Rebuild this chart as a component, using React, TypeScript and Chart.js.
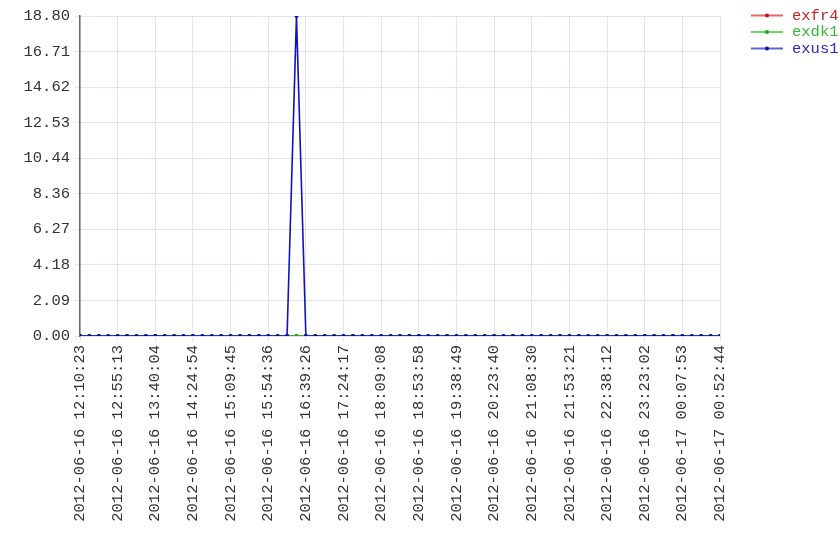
import React, { useEffect, useRef } from "react";
import { Chart, registerables } from "chart.js";

Chart.register(...registerables);

const seriesNames = ["exfr4", "exdk1", "exus1"];
const plotLineColors = ["#d02020", "#22c022", "#1212c4"];
const legendLineColors = ["rgba(215,40,40,0.7)", "rgba(40,200,40,0.7)", "rgba(30,30,200,0.7)"];
const pointColors = ["#c81010", "#10b010", "#0c0cb0"];
const textColors = ["#cc2222", "#33bb33", "#2828c0"];

const xTickLabels = [
  "2012-06-16 12:10:23",
  "2012-06-16 12:55:13",
  "2012-06-16 13:40:04",
  "2012-06-16 14:24:54",
  "2012-06-16 15:09:45",
  "2012-06-16 15:54:36",
  "2012-06-16 16:39:26",
  "2012-06-16 17:24:17",
  "2012-06-16 18:09:08",
  "2012-06-16 18:53:58",
  "2012-06-16 19:38:49",
  "2012-06-16 20:23:40",
  "2012-06-16 21:08:30",
  "2012-06-16 21:53:21",
  "2012-06-16 22:38:12",
  "2012-06-16 23:23:02",
  "2012-06-17 00:07:53",
  "2012-06-17 00:52:44",
];

// 69 samples (4 per labelled interval)
const exfr4 = [
  0, 0, 0, 0, 0, 0, 0, 0, 0, 0,
  0, 0, 0, 0, 0, 0, 0, 0, 0, 0,
  0, 0, 0, 0, 0, 0, 0, 0, 0, 0,
  0, 0, 0, 0, 0, 0, 0, 0, 0, 0,
  0, 0, 0, 0, 0, 0, 0, 0, 0, 0,
  0, 0, 0, 0, 0, 0, 0, 0, 0, 0,
  0, 0, 0, 0, 0, 0, 0, 0, 0,
];
const exdk1 = [
  0, 0, 0, 0, 0, 0, 0, 0, 0, 0,
  0, 0, 0, 0, 0, 0, 0, 0, 0, 0,
  0, 0, 0, 0, 0, 0, 0, 0, 0, 0,
  0, 0, 0, 0, 0, 0, 0, 0, 0, 0,
  0, 0, 0, 0, 0, 0, 0, 0, 0, 0,
  0, 0, 0, 0, 0, 0, 0, 0, 0, 0,
  0, 0, 0, 0, 0, 0, 0, 0, 0,
];
const exus1 = [
  0, 0, 0, 0, 0, 0, 0, 0, 0, 0,
  0, 0, 0, 0, 0, 0, 0, 0, 0, 0,
  0, 0, 0, 18.8, 0, 0, 0, 0, 0, 0,
  0, 0, 0, 0, 0, 0, 0, 0, 0, 0,
  0, 0, 0, 0, 0, 0, 0, 0, 0, 0,
  0, 0, 0, 0, 0, 0, 0, 0, 0, 0,
  0, 0, 0, 0, 0, 0, 0, 0, 0,
];

const yMax = 18.8;
const yDivisions = 9;
const samplesPerLabel = 4;

const FONT = "'Liberation Mono', monospace";
const FONT_SIZE = 15.5;

const sideLegend = {
  id: "sideLegend",
  afterDraw(chart: any) {
    const ctx = chart.ctx;
    const area = chart.chartArea;
    chart.data.datasets.forEach((ds: any, i: number) => {
      const y = area.top + i * 16.5 - 0.5;
      const x0 = area.right + 31;
      ctx.save();
      ctx.strokeStyle = legendLineColors[i];
      ctx.lineWidth = 2;
      ctx.beginPath();
      ctx.moveTo(x0, y);
      ctx.lineTo(x0 + 32, y);
      ctx.stroke();
      ctx.fillStyle = pointColors[i];
      ctx.beginPath();
      ctx.arc(x0 + 16, y, 2, 0, Math.PI * 2);
      ctx.fill();
      ctx.font = `${FONT_SIZE}px ${FONT}`;
      ctx.fillStyle = textColors[i];
      ctx.textBaseline = "middle";
      ctx.textAlign = "left";
      ctx.fillText(ds.label, x0 + 41, y);
      ctx.restore();
    });
  },
};

export default function App() {
  const canvasRef = useRef<HTMLCanvasElement | null>(null);

  useEffect(() => {
    if (!canvasRef.current) return;
    const series = [exfr4, exdk1, exus1];
    const chart = new Chart(canvasRef.current, {
      type: "line",
      data: {
        datasets: series.map((vals, i) => ({
          label: seriesNames[i],
          data: vals.map((v, j) => ({ x: j, y: v })),
          order: series.length - 1 - i,
          borderColor: plotLineColors[i],
          backgroundColor: pointColors[i],
          pointBackgroundColor: pointColors[i],
          pointBorderWidth: 0,
          pointRadius: 2,
          borderWidth: 1.6,
          tension: 0,
          fill: false,
        })),
      },
      options: {
        animation: false,
        responsive: false,
        maintainAspectRatio: false,
        layout: { padding: { left: 0, top: 16, right: 120, bottom: 0 } },
        plugins: {
          legend: { display: false },
          tooltip: { enabled: false },
        },
        scales: {
          x: {
            type: "linear",
            min: 0,
            max: (xTickLabels.length - 1) * samplesPerLabel,
            afterBuildTicks: (scale: any) => {
              scale.ticks = xTickLabels.map((_, k) => ({ value: k * samplesPerLabel }));
            },
            afterFit: (scale: any) => {
              scale.height = 560 - 336;
            },
            ticks: {
              autoSkip: false,
              minRotation: 90,
              maxRotation: 90,
              padding: 4,
              color: "#333",
              font: { family: FONT, size: FONT_SIZE },
              callback: (v: any) => xTickLabels[Math.round(Number(v) / samplesPerLabel)],
            },
            grid: { color: "#e2e2fa", tickLength: 5, lineWidth: 1 },
            border: { display: true, color: "#e2e2fa" },
          },
          y: {
            type: "linear",
            min: 0,
            max: yMax,
            afterBuildTicks: (scale: any) => {
              const t = [];
              for (let k = 0; k <= yDivisions; k++) t.push({ value: (k * yMax) / yDivisions });
              scale.ticks = t;
            },
            afterFit: (scale: any) => {
              scale.width = 80;
            },
            ticks: {
              padding: 5,
              color: "#333",
              font: { family: FONT, size: FONT_SIZE },
              callback: (v: any) => Number(v).toFixed(2),
            },
            grid: { color: "#e2e2fa", tickLength: 5, lineWidth: 1 },
            border: { display: true, color: "#66666e", width: 1.5 },
          },
        },
      },
      plugins: [sideLegend],
    });
    return () => chart.destroy();
  }, []);

  return (
    <div style={{ position: "fixed", left: 0, top: 0, width: 840, height: 560, background: "#fff" }}>
      <canvas ref={canvasRef} width={840} height={560} style={{ display: "block", width: 840, height: 560 }} />
    </div>
  );
}
